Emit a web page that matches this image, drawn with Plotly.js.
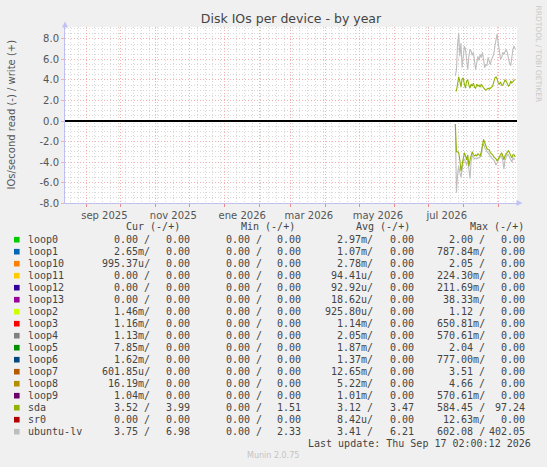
<!DOCTYPE html>
<html>
<head>
<meta charset="utf-8">
<script src="https://cdn.plot.ly/plotly-3.0.1.min.js"></script>
<style>
  html, body { margin: 0; padding: 0; background: #f0f0f0; }
  #chart { width: 547px; height: 467px; }
</style>
</head>
<body>
<div id="chart"></div>
<script>
// one value per day, starting at firstDay
var firstDay = [2026, 6, 24];

var sdaWrite = [2.95, 2.95, 3.6, 4.3, 3.9, 3.3, 4.1, 4.2, 3.6, 3.2,
                3.9, 4.0, 3.5, 3.2, 3.6, 3.4, 3.7, 3.3, 3.2, 3.6,
                3.4, 3.5, 3.3, 3.6, 3.4, 3.2, 3.1, 3.0, 3.1, 3.2,
                3.1, 3.2, 3.3, 3.4, 3.8, 4.2, 4.3, 4.1, 3.7, 3.6,
                3.8, 3.5, 3.5, 3.8, 4.0, 3.9, 3.7, 3.4, 3.5, 3.9,
                3.7, 3.9, 4.0, 4.0];
var sdaRead = [-0.3, -3.0, -3.0, -3.1, -3.8, -4.9, -4.3, -3.6, -3.1, -3.4,
               -3.8, -3.3, -4.4, -3.8, -3.2, -3.0, -3.3, -3.4, -3.3, -3.4,
               -3.2, -3.3, -3.4, -3.0, -2.1, -1.8, -2.1, -2.5, -2.7, -2.8,
               -2.8, -3.1, -3.2, -3.3, -3.5, -3.6, -3.7, -3.9, -3.7, -3.4,
               -3.2, -3.1, -3.4, -3.8, -3.4, -3.2, -3.0, -2.9, -3.1, -3.3,
               -3.6, -3.3, -3.3, -3.5];
var lvWrite = [4.4, 5.0, 7.5, 8.6, 6.3, 7.6, 5.2, 6.7, 7.3, 7.0,
               6.0, 5.0, 6.3, 7.0, 6.8, 6.4, 6.7, 6.0, 5.0, 5.7,
               6.3, 5.9, 6.5, 6.2, 6.7, 6.0, 5.2, 5.5, 5.4, 6.2,
               5.9, 5.5, 6.0, 6.3, 6.5, 7.3, 8.0, 8.5, 7.6, 7.0,
               6.0, 6.2, 6.7, 6.5, 6.7, 7.0, 6.7, 6.0, 5.6, 5.4,
               6.3, 7.0, 7.3, 7.0];
var lvRead = [-0.3, -7.0, -5.2, -4.4, -5.0, -5.5, -4.8, -3.9, -3.7, -4.0,
              -4.3, -3.7, -5.1, -5.6, -3.9, -3.4, -3.5, -3.7, -3.6, -3.7,
              -3.6, -3.6, -3.5, -3.4, -2.5, -2.2, -2.6, -2.9, -3.0, -3.1,
              -3.3, -3.4, -3.6, -3.7, -3.8, -4.0, -4.3, -4.1, -3.8, -3.6,
              -3.5, -3.4, -3.9, -4.7, -3.8, -3.5, -3.3, -3.3, -3.6, -3.8,
              -4.0, -3.6, -3.7, -3.75];

var devices  = ['loop0', 'loop1', 'loop10', 'loop11', 'loop12', 'loop13', 'loop2', 'loop3', 'loop4',
                'loop5', 'loop6', 'loop7', 'loop8', 'loop9', 'sda', 'sr0', 'ubuntu-lv'];
var curRead  = ['0.00 /', '2.65m/', '995.37u/', '0.00 /', '0.00 /', '0.00 /', '1.46m/', '1.16m/', '1.13m/',
                '7.85m/', '1.62m/', '601.85u/', '16.19m/', '1.04m/', '3.52 /', '0.00 /', '3.75 /'];
var curWrite = ['0.00', '0.00', '0.00', '0.00', '0.00', '0.00', '0.00', '0.00', '0.00',
                '0.00', '0.00', '0.00', '0.00', '0.00', '3.99', '0.00', '6.98'];
var minRead  = ['0.00 /', '0.00 /', '0.00 /', '0.00 /', '0.00 /', '0.00 /', '0.00 /', '0.00 /', '0.00 /',
                '0.00 /', '0.00 /', '0.00 /', '0.00 /', '0.00 /', '0.00 /', '0.00 /', '0.00 /'];
var minWrite = ['0.00', '0.00', '0.00', '0.00', '0.00', '0.00', '0.00', '0.00', '0.00',
                '0.00', '0.00', '0.00', '0.00', '0.00', '1.51', '0.00', '2.33'];
var avgRead  = ['2.97m/', '1.07m/', '2.78m/', '94.41u/', '92.92u/', '18.62u/', '925.80u/', '1.14m/', '2.05m/',
                '1.87m/', '1.37m/', '12.65m/', '5.22m/', '1.01m/', '3.12 /', '8.42u/', '3.41 /'];
var avgWrite = ['0.00', '0.00', '0.00', '0.00', '0.00', '0.00', '0.00', '0.00', '0.00',
                '0.00', '0.00', '0.00', '0.00', '0.00', '3.47', '0.00', '6.21'];
var maxRead  = ['2.00 /', '787.84m/', '2.05 /', '224.30m/', '211.69m/', '38.33m/', '1.12 /', '650.81m/', '570.61m/',
                '2.04 /', '777.00m/', '3.51 /', '4.66 /', '570.61m/', '584.45 /', '12.63m/', '602.08 /'];
var maxWrite = ['0.00', '0.00', '0.00', '0.00', '0.00', '0.00', '0.00', '0.00', '0.00',
                '0.00', '0.00', '0.00', '0.00', '0.00', '97.24', '0.00', '402.05'];
var colors = ['#00CC00', '#0066B3', '#FF8000', '#FFCC00', '#330099', '#990099', '#CCFF00', '#FF0000', '#808080',
              '#008F00', '#00487D', '#B35A00', '#B38F00', '#6B006B', '#8FB300', '#B30000', '#BEBEBE'];

var monthTicks = ['2025-09-01', '2025-10-01', '2025-11-01', '2025-12-01', '2026-01-01', '2026-02-01', '2026-03-01',
                  '2026-04-01', '2026-05-01', '2026-06-01', '2026-07-01', '2026-08-01', '2026-09-01'];
var monthLabels = ['sep 2025', '', 'nov 2025', '', 'ene 2026', '', 'mar 2026', '', 'may 2026', '', 'jul 2026', '', ''];
var yTicks = [-8, -6, -4, -2, 0, 2, 4, 6, 8];

// dates for the daily points
var days = [];
for (var i = 0; i < sdaWrite.length; i++) {
    var d = new Date(Date.UTC(firstDay[0], firstDay[1], firstDay[2] + i, 12));
    days.push(d.toISOString().slice(0, 16).replace('T', ' '));
}

// page geometry (pixels)
var L = 65, R = 517, T = 27, B = 203;
function px(x) { return (x - L) / (R - L); }
function py(y) { return (B - y) / (B - T); }

var mono = 'DejaVu Sans Mono, monospace';
var annotations = [];
var shapes = [];

function txt(text, x, y, anchor, size, color, family, angle) {
    annotations.push({
        text: text, xref: 'paper', yref: 'paper', x: px(x), y: py(y),
        xanchor: anchor, yanchor: 'middle', showarrow: false,
        textangle: angle || 0,
        font: {family: family || 'DejaVu Sans', size: size, color: color}
    });
}

// legend table
txt('Cur (-/+)', 182, 227, 'right', 10, '#444', mono);
txt('Min (-/+)', 297, 227, 'right', 10, '#444', mono);
txt('Avg (-/+)', 412, 227, 'right', 10, '#444', mono);
txt('Max (-/+)', 526, 227, 'right', 10, '#444', mono);
for (var k = 0; k < devices.length; k++) {
    var yy = 239.7 + 12 * k;
    shapes.push({type: 'rect', xref: 'paper', yref: 'paper',
        x0: px(14), x1: px(19.6), y0: py(yy - 2.8), y1: py(yy + 2.8),
        fillcolor: colors[k], line: {width: 0}});
    txt(devices[k], 25.5, yy, 'left', 10, '#444', mono);
    txt(curRead[k], 152, yy, 'right', 10, '#444', mono);
    txt(curWrite[k], 191.5, yy, 'right', 10, '#444', mono);
    txt(minRead[k], 263.5, yy, 'right', 10, '#444', mono);
    txt(minWrite[k], 303, yy, 'right', 10, '#444', mono);
    txt(avgRead[k], 375, yy, 'right', 10, '#444', mono);
    txt(avgWrite[k], 415.5, yy, 'right', 10, '#444', mono);
    txt(maxRead[k], 487, yy, 'right', 10, '#444', mono);
    txt(maxWrite[k], 527, yy, 'right', 10, '#444', mono);
}
txt('Last update: Thu Sep 17 02:00:12 2026', 533, 443.7, 'right', 10, '#444', mono);
txt('Munin 2.0.75', 273, 455.7, 'center', 8, '#c4c4c4');
txt('RRDTOOL / TOBI OETIKER', 538.5, 54, 'center', 7.5, '#c8c8c8', null, 90);
txt('IOs/second read (-) / write (+)', 10.5, 115, 'center', 10, '#555', null, -90);

// axis arrows
shapes.push({type: 'path', xref: 'paper', yref: 'paper', fillcolor: '#c0c0f4', line: {width: 0},
    path: 'M' + px(L - 3) + ',' + py(27.5) + ' L' + px(L + 3) + ',' + py(27.5) + ' L' + px(L) + ',' + py(21.5) + ' Z'});
shapes.push({type: 'path', xref: 'paper', yref: 'paper', fillcolor: '#c0c0f4', line: {width: 0},
    path: 'M' + px(R - 0.5) + ',' + py(B - 3) + ' L' + px(R - 0.5) + ',' + py(B + 3) + ' L' + px(R + 5.5) + ',' + py(B) + ' Z'});

var data = [
    {x: days, y: lvRead, type: 'scatter', mode: 'lines', line: {color: '#BEBEBE', width: 1.1}, hoverinfo: 'skip'},
    {x: days, y: lvWrite, type: 'scatter', mode: 'lines', line: {color: '#BEBEBE', width: 1.1}, hoverinfo: 'skip'},
    {x: days, y: sdaRead, type: 'scatter', mode: 'lines', line: {color: '#8FB300', width: 1.1}, hoverinfo: 'skip'},
    {x: days, y: sdaWrite, type: 'scatter', mode: 'lines', line: {color: '#8FB300', width: 1.1}, hoverinfo: 'skip'}
];

var layout = {
    width: 547,
    height: 467,
    margin: {l: L, r: 547 - R, t: T, b: 467 - B},
    paper_bgcolor: '#f0f0f0',
    plot_bgcolor: '#ffffff',
    showlegend: false,
    font: {family: 'DejaVu Sans', size: 10, color: '#555'},
    title: {text: 'Disk IOs per device - by year', x: 0.5, xref: 'paper', y: 1 - 19 / 467, yanchor: 'middle',
            font: {family: 'DejaVu Sans', size: 12.5, color: '#444'}},
    xaxis: {
        type: 'date',
        range: ['2025-08-13 02:00', '2026-09-17 02:00'],
        tickmode: 'array',
        tickvals: monthTicks,
        ticktext: monthLabels,
        ticklabelshift: 18,
        ticks: 'outside', ticklen: 3, tickcolor: '#f08a8a',
        showgrid: true, gridcolor: '#f6b0b0', griddash: '1px,2px', gridwidth: 1,
        minor: {tickmode: 'linear', tick0: '2025-08-18', dtick: 604800000,
                showgrid: true, gridcolor: '#d8d8d8', griddash: '1px,2px', ticks: ''},
        showline: true, linecolor: '#c0c0f0', linewidth: 1,
        zeroline: false, fixedrange: true,
        tickfont: {size: 10, color: '#555'}
    },
    yaxis: {
        range: [-8, 9.17],
        tickmode: 'array',
        tickvals: yTicks,
        ticktext: yTicks.map(function (v) { return v.toFixed(1); }),
        ticks: 'outside', ticklen: 3, tickcolor: '#f6b0b0',
        showgrid: true, gridcolor: '#f6b0b0', griddash: '1px,2px', gridwidth: 1,
        minor: {tickmode: 'linear', tick0: 0, dtick: 0.5,
                showgrid: true, gridcolor: '#d8d8d8', griddash: '1px,2px', ticks: ''},
        showline: true, linecolor: '#c0c0f0', linewidth: 1,
        zeroline: true, zerolinecolor: '#000000', zerolinewidth: 1.2,
        fixedrange: true,
        tickfont: {size: 10, color: '#555'}
    },
    annotations: annotations,
    shapes: shapes
};

Plotly.newPlot('chart', data, layout, {staticPlot: true});
</script>
</body>
</html>
